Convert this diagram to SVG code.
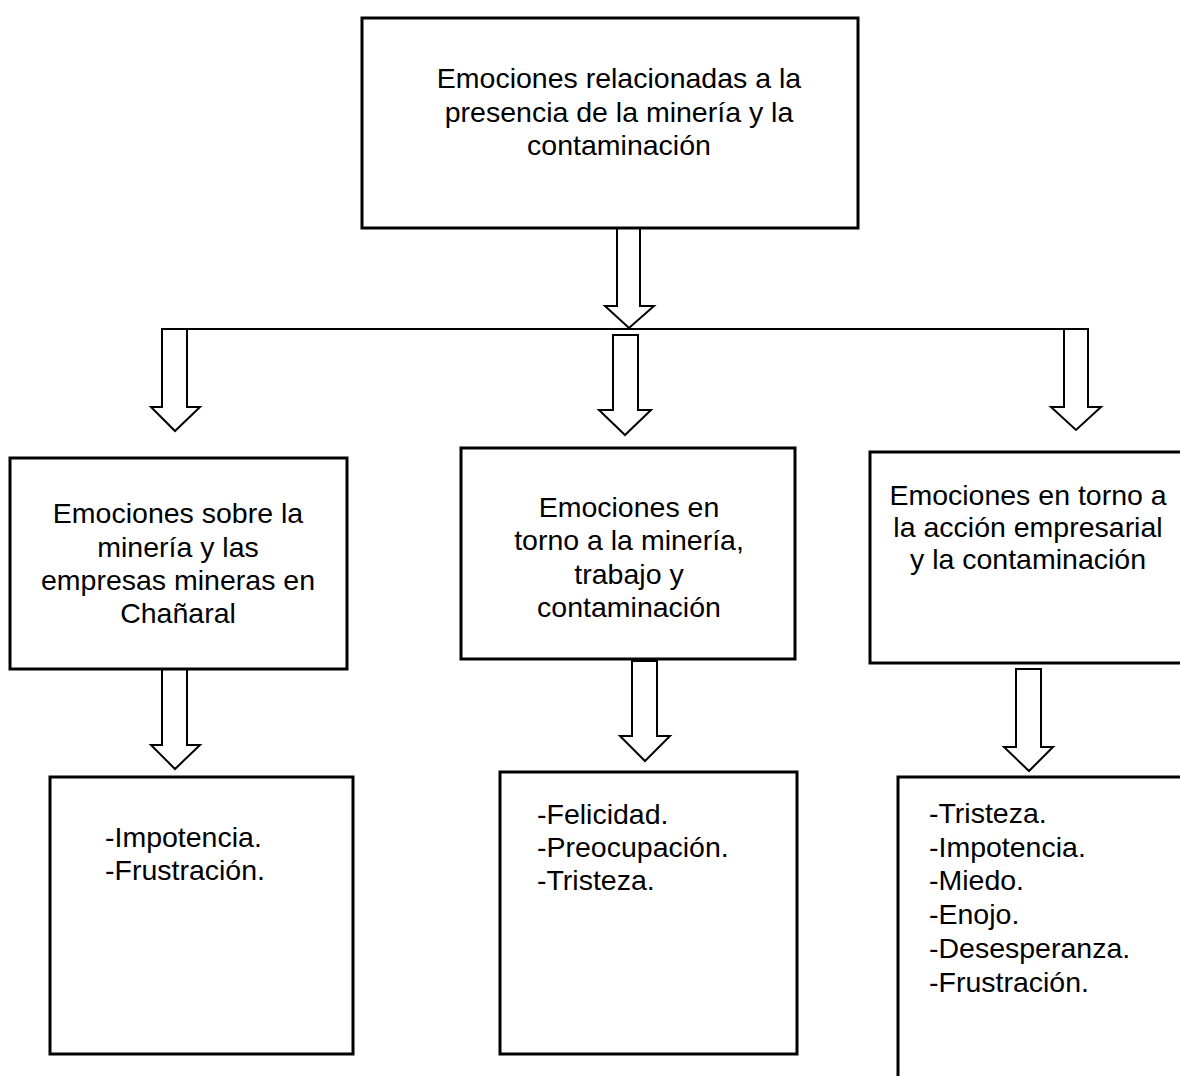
<svg xmlns="http://www.w3.org/2000/svg" width="1180" height="1076" viewBox="0 0 1180 1076">
<style>
.box{fill:#fff;stroke:#000;stroke-width:3}
.arr{fill:#fff;stroke:#000;stroke-width:2;stroke-linejoin:miter}
.ln{fill:none;stroke:#000;stroke-width:2}
text{font-family:"Liberation Sans",Arial,sans-serif;font-size:28.5px;fill:#000}
.c{text-anchor:middle}
</style>
<rect width="1180" height="1076" fill="#fff"/>
<g id="connectors">
<polygon class="arr" points="617,228 640,228 640,306 654,306 629,328 605,306 617,306"/>
<polyline class="ln" points="162,407 162,329 1088,329"/>
<polygon class="arr" points="162,329 187,329 187,407 200,407 175,431 151,407 162,407"/>
<polygon class="arr" points="613,335 638,335 638,410 651,410 625,435 599,410 613,410"/>
<polygon class="arr" points="1064,329 1088,329 1088,407 1101,407 1076,430 1051,407 1064,407"/>
<polygon class="arr" points="162,668 187,668 187,745 200,745 175,769 151,745 162,745"/>
<polygon class="arr" points="632,661 657,661 657,736 670,736 645,761 620,736 632,736"/>
<polygon class="arr" points="1016,669 1041,669 1041,747 1053,747 1029,771 1004,747 1016,747"/>
</g>
<g id="top">
<rect class="box" x="362" y="18" width="496" height="210"/>
<text class="c"><tspan x="619" y="88">Emociones relacionadas a la</tspan><tspan x="619" y="121.5">presencia de la minería y la</tspan><tspan x="619" y="155">contaminación</tspan></text>
</g>
<g id="cat1">
<rect class="box" x="10" y="458" width="337" height="211"/>
<text class="c"><tspan x="178" y="523">Emociones sobre la</tspan><tspan x="178" y="556.5">minería y las</tspan><tspan x="178" y="590">empresas mineras en</tspan><tspan x="178" y="623">Chañaral</tspan></text>
</g>
<g id="cat2">
<rect class="box" x="461" y="448" width="334" height="211"/>
<text class="c"><tspan x="629" y="517">Emociones en</tspan><tspan x="629" y="550">torno a la minería,</tspan><tspan x="629" y="583.5">trabajo y</tspan><tspan x="629" y="617">contaminación</tspan></text>
</g>
<g id="cat3">
<rect class="box" x="870" y="452" width="330" height="211"/>
<text class="c"><tspan x="1028" y="505">Emociones en torno a</tspan><tspan x="1028" y="537">la acción empresarial</tspan><tspan x="1028" y="569">y la contaminación</tspan></text>
</g>
<g id="list1">
<rect class="box" x="50" y="777" width="303" height="277"/>
<text><tspan x="105" y="847">-Impotencia.</tspan><tspan x="105" y="880">-Frustración.</tspan></text>
</g>
<g id="list2">
<rect class="box" x="500" y="772" width="297" height="282"/>
<text><tspan x="537" y="824">-Felicidad.</tspan><tspan x="537" y="857">-Preocupación.</tspan><tspan x="537" y="890">-Tristeza.</tspan></text>
</g>
<g id="list3">
<rect class="box" x="898" y="777" width="300" height="320"/>
<text><tspan x="929" y="823">-Tristeza.</tspan><tspan x="929" y="857">-Impotencia.</tspan><tspan x="929" y="890">-Miedo.</tspan><tspan x="929" y="924">-Enojo.</tspan><tspan x="929" y="958">-Desesperanza.</tspan><tspan x="929" y="992">-Frustración.</tspan></text>
</g>
</svg>
